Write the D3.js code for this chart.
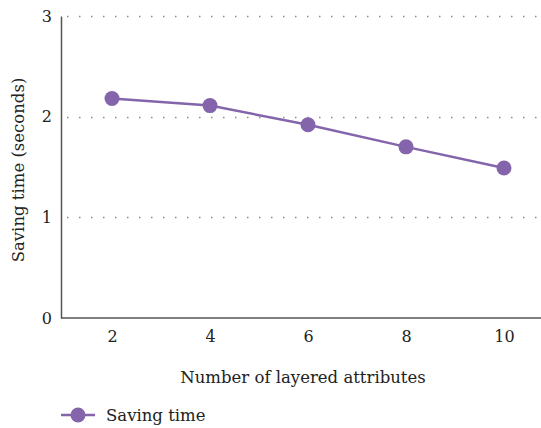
<!DOCTYPE html>
<html>
<head>
<meta charset="utf-8">
<script src="https://cdn.jsdelivr.net/npm/d3@7"></script>
<style>
  body { margin: 0; background: #fff; }
  svg text { font-family: "DejaVu Serif", serif; }
</style>
</head>
<body>
<div id="chart"></div>
<script>
let width = 541;
let height = 428;
let margin = ({top: 16, right: 0, bottom: 110, left: 61});

let attributes = [2, 4, 6, 8, 10];
let savingTime = [2.18, 2.11, 1.92, 1.70, 1.49];
let yTicks = [0, 1, 2, 3];
let seriesName = "Saving time";

let purple = "#8465ac";

let data = attributes.map((a, i) => ({x: a, y: savingTime[i]}));

let x = d3.scalePoint()
    .domain(attributes)
    .range([margin.left + 2, margin.left + 2 + 98 * 5])
    .padding(0.5);

let y = d3.scaleLinear()
    .domain([0, 3])
    .range([height - margin.bottom, margin.top]);

let svg = d3.select("#chart")
    .append("svg")
    .attr("width", width)
    .attr("height", height)
    .attr("viewBox", [0, 0, width, height]);

// dotted grid
svg.append("g")
    .selectAll("line")
    .data(yTicks.filter(d => d > 0))
    .join("line")
    .attr("x1", margin.left + 6)
    .attr("x2", width)
    .attr("y1", d => Math.round(y(d)) + 0.5)
    .attr("y2", d => Math.round(y(d)) + 0.5)
    .attr("stroke", "#8a8a8a")
    .attr("stroke-width", 1.5)
    .attr("stroke-dasharray", "1.5,10.5");

// y axis
svg.append("g")
    .attr("transform", `translate(${margin.left},0)`)
    .call(d3.axisLeft(y).tickValues(yTicks).tickSize(0).tickPadding(9).tickFormat(d3.format("d")))
    .call(g => g.select(".domain").attr("stroke", "#555").attr("stroke-width", 1.5))
    .call(g => g.selectAll("text").style("font-size", "16px").attr("fill", "#222"));

// x axis
svg.append("g")
    .attr("transform", `translate(0,${height - margin.bottom})`)
    .call(d3.axisBottom(x).tickSize(0).tickPadding(13))
    .call(g => g.select(".domain").remove())
    .call(g => g.selectAll("text").style("font-size", "16px").attr("fill", "#222"));

svg.append("line")
    .attr("x1", margin.left)
    .attr("x2", width)
    .attr("y1", y(0))
    .attr("y2", y(0))
    .attr("stroke", "#555")
    .attr("stroke-width", 1.5);

// axis titles
svg.append("text")
    .attr("x", 303)
    .attr("y", 383)
    .attr("text-anchor", "middle")
    .style("font-size", "16.5px")
    .attr("fill", "#222")
    .text("Number of layered attributes");

svg.append("text")
    .attr("transform", `translate(24,${(margin.top + y(0)) / 2 + 3}) rotate(-90)`)
    .attr("text-anchor", "middle")
    .style("font-size", "16.5px")
    .attr("fill", "#222")
    .text("Saving time (seconds)");

// line + points
svg.append("path")
    .datum(data)
    .attr("fill", "none")
    .attr("stroke", purple)
    .attr("stroke-width", 2.5)
    .attr("d", d3.line().x(d => x(d.x)).y(d => y(d.y)));

svg.append("g")
    .selectAll("circle")
    .data(data)
    .join("circle")
    .attr("cx", d => x(d.x))
    .attr("cy", d => y(d.y))
    .attr("r", 7.5)
    .attr("fill", purple);

// legend
let legend = svg.append("g").attr("transform", "translate(61,415)");
legend.append("line")
    .attr("x1", 0).attr("x2", 34)
    .attr("stroke", purple).attr("stroke-width", 2.5);
legend.append("circle")
    .attr("cx", 17).attr("r", 7.5).attr("fill", purple);
legend.append("text")
    .attr("x", 45).attr("y", 6)
    .style("font-size", "16.5px")
    .attr("fill", "#222")
    .text(seriesName);
</script>
</body>
</html>
